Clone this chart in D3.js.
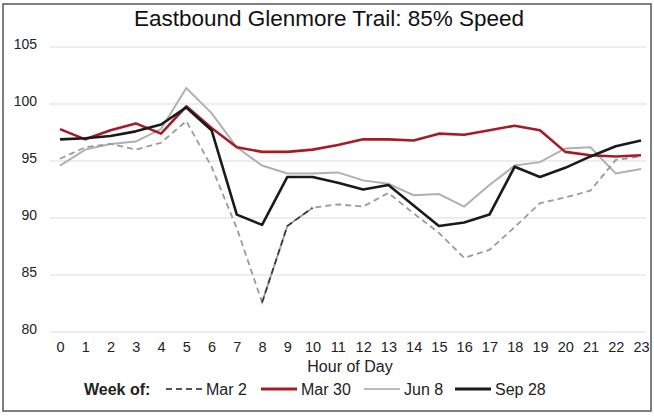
<!DOCTYPE html>
<html><head><meta charset="utf-8">
<script src="https://cdn.jsdelivr.net/npm/d3@7"></script>
<style>
html,body{margin:0;padding:0;background:#fff;}
text{font-family:"Liberation Sans",Arial,sans-serif;}
</style></head>
<body><svg id="c" width="654" height="418"></svg>
<script>
const hours = d3.range(0, 24);
const hourLabels = hours.map(String);
const yTicks = [80, 85, 90, 95, 100, 105];
const mar2  = [95.2,96.2,96.5,96.0,96.6,98.5,94.5,89.1,82.6,89.3,90.9,91.2,91.0,92.2,90.4,88.7,86.5,87.2,89.2,91.3,91.8,92.4,95.1,95.4];
const mar30 = [97.8,96.9,97.7,98.3,97.4,99.8,97.9,96.2,95.8,95.8,96.0,96.4,96.9,96.9,96.8,97.4,97.3,97.7,98.1,97.7,95.8,95.5,95.4,95.5];
const jun8  = [94.6,96.0,96.5,96.7,97.8,101.4,99.2,96.2,94.6,93.9,93.9,94.0,93.3,93.0,92.0,92.1,91.0,92.9,94.6,94.9,96.1,96.2,93.9,94.3];
const sep28 = [96.9,97.0,97.2,97.6,98.2,99.7,97.7,90.3,89.4,93.6,93.6,93.1,92.5,92.9,91.1,89.3,89.6,90.3,94.5,93.6,94.4,95.4,96.3,96.8];
const mar2DarkHours = [8, 9, 10];
const seriesNames = ["Mar 2", "Mar 30", "Jun 8", "Sep 28"];
const titleText = "Eastbound Glenmore Trail: 85% Speed";

const svg = d3.select("#c");
// outer frame
svg.append("rect").attr("x",3).attr("y",4).attr("width",648).attr("height",407)
  .attr("fill","none").attr("stroke","#555").attr("stroke-width",1.5);

const x = d3.scalePoint().domain(hours).range([60, 641]);
const y = d3.scaleLinear().domain([80, 105]).range([332, 47]);

// gridlines
svg.append("g").selectAll("line").data(yTicks).join("line")
  .attr("x1",50).attr("x2",646).attr("y1",d=>y(d)).attr("y2",d=>y(d))
  .attr("stroke","#dcdcdc").attr("stroke-width",1.2);

// y axis
const ya = svg.append("g").attr("transform","translate(37,0)")
  .call(d3.axisLeft(y).tickValues(yTicks).tickSize(0).tickPadding(0));
ya.select(".domain").remove();
ya.selectAll("text").attr("font-size",14).attr("fill","#222").attr("dy","0.1em");

// x axis
const xa = svg.append("g").attr("transform","translate(0,342)")
  .call(d3.axisBottom(x).tickFormat((d,i)=>hourLabels[i]).tickSize(0).tickPadding(0));
xa.select(".domain").remove();
xa.selectAll("text").attr("font-size",14.5).attr("fill","#222");

svg.append("text").attr("x",350).attr("y",372).attr("text-anchor","middle")
  .attr("font-size",16).attr("fill","#222").text("Hour of Day");

svg.append("text").attr("x",329).attr("y",26).attr("text-anchor","middle")
  .attr("font-size",22.5).attr("fill","#111").text(titleText);

const line = d3.line().x((d,i)=>x(hours[i])).y(d=>y(d));
const lineSub = d3.line().x(d=>x(d)).y(d=>y(mar2[d]));

svg.append("path").attr("d",line(jun8)).attr("fill","none").attr("stroke","#b0b0b0").attr("stroke-width",2);
svg.append("path").attr("d",line(mar2)).attr("fill","none").attr("stroke","#9a9a9a").attr("stroke-width",1.8).attr("stroke-dasharray","6,4");
svg.append("path").attr("d",lineSub(mar2DarkHours)).attr("fill","none").attr("stroke","#333").attr("stroke-width",1.8).attr("stroke-dasharray","6,4");
svg.append("path").attr("d",line(mar30)).attr("fill","none").attr("stroke","#a51d24").attr("stroke-width",2.6).attr("stroke-linejoin","round");
svg.append("path").attr("d",line(sep28)).attr("fill","none").attr("stroke","#1a1a1a").attr("stroke-width",2.6).attr("stroke-linejoin","round");

// legend
const lg = svg.append("g");
const ly = 389;
lg.append("text").attr("x",84).attr("y",ly+5.5).attr("font-size",16).attr("font-weight","bold").attr("fill","#222").text("Week of:");
const items = [
  {name:seriesNames[0], x1:166, color:"#555", w:1.8, dash:"6,4"},
  {name:seriesNames[1], x1:261, color:"#a51d24", w:2.8, dash:null},
  {name:seriesNames[2], x1:364, color:"#777", w:1.2, dash:null},
  {name:seriesNames[3], x1:455, color:"#1a1a1a", w:2.8, dash:null}
];
items.forEach(it=>{
  lg.append("line").attr("x1",it.x1).attr("x2",it.x1+36).attr("y1",ly).attr("y2",ly)
    .attr("stroke",it.color).attr("stroke-width",it.w).attr("stroke-dasharray",it.dash);
  lg.append("text").attr("x",it.x1+40).attr("y",ly+5.5).attr("font-size",16).attr("fill","#222").text(it.name);
});
</script></body></html>
